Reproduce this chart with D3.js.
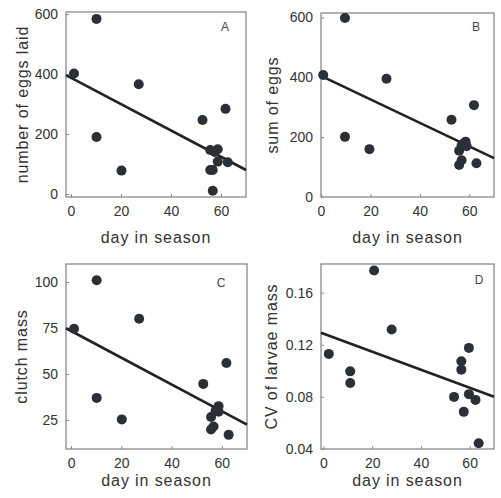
<!DOCTYPE html>
<html><head><meta charset="utf-8">
<script src="https://cdn.jsdelivr.net/npm/d3@7"></script>
<style>body{margin:0;background:#fff}svg{display:block}text{font-family:"Liberation Sans",Arial,sans-serif;fill:#333}</style>
</head><body><svg id="c" width="501" height="498"></svg>
<script>
// Panel A: number of eggs laid
const dayA = [1.2, 10.2, 10.2, 20.2, 27.1, 52.6, 61.8, 55.7, 58.7, 57.5, 58.7, 62.7, 55.7, 56.7, 56.7];
const eggsA = [402, 584, 190, 78, 366, 247, 284, 147, 149, 140, 108, 106, 80, 80, 11];
// Panel B: sum of eggs
const dayB = [0.9, 9.7, 9.7, 19.6, 26.5, 52.8, 61.9, 55.9, 56.9, 58.5, 58.9, 57.5, 55.9, 56.9, 62.9];
const eggsB = [408, 598, 201, 160, 395, 258, 307, 155, 172, 185, 170, 178, 107, 123, 113];
// Panel C: clutch mass
const dayC = [1.2, 10.2, 10.2, 20.2, 27.1, 52.6, 61.8, 55.7, 56.7, 55.7, 57.5, 58.7, 58.7, 62.7];
const massC = [74.6, 101, 37, 25.3, 80, 44.6, 56, 26.6, 21.4, 19.8, 30, 32.5, 29.5, 16.9];
// Panel D: CV of larvae mass
const dayD = [2.2, 11, 11, 20.8, 28, 53.6, 56.6, 56.6, 59.7, 59.7, 57.6, 62.4, 63.7];
const cvD = [0.113, 0.0996, 0.0906, 0.177, 0.1317, 0.080, 0.1073, 0.1009, 0.1176, 0.0821, 0.0685, 0.0777, 0.0444];
// Fitted regression lines: [intercept, slope]
const fitA = [388, -4.4];
const fitB = [405, -3.93];
const fitC = [73.4, -0.727];
const fitD = [0.1285, -0.000692];
const xTicks = [0, 20, 40, 60];
const yTicksA = [0, 200, 400, 600];
const yTicksB = [0, 200, 400, 600];
const yTicksC = [25, 50, 75, 100];
const yTicksD = [0.04, 0.08, 0.12, 0.16];
const yLabels = ["number of eggs laid", "sum of eggs", "clutch mass", "CV of larvae mass"];
const panelLetters = ["A", "B", "C", "D"];

const panels = [
  {x: dayA, y: eggsA, fit: fitA, yt: yTicksA, yfmt: d3.format("d"), xd: [-2, 70], yd: [-10, 607],
   box: [66, 12, 246, 197], ylx: 22, letter: [225, 27]},
  {x: dayB, y: eggsB, fit: fitB, yt: yTicksB, yfmt: d3.format("d"), xd: [0, 70], yd: [0, 615],
   box: [321, 13, 494, 197], ylx: 272, letter: [476, 27]},
  {x: dayC, y: massC, fit: fitC, yt: yTicksC, yfmt: d3.format("d"), xd: [-2, 70], yd: [9.2, 109.8],
   box: [66, 264, 247, 449], ylx: 21, letter: [221, 283]},
  {x: dayD, y: cvD, fit: fitD, yt: yTicksD, yfmt: d3.format(".2f"), xd: [-1, 70], yd: [0.04, 0.182],
   box: [321, 264, 494, 449], ylx: 271, letter: [479, 280]}
];

const svg = d3.select("#c");
panels.forEach((p, i) => {
  const [x0, y0, x1, y1] = p.box;
  const xs = d3.scaleLinear().domain(p.xd).range([x0, x1]);
  const ys = d3.scaleLinear().domain(p.yd).range([y1, y0]);
  const g = svg.append("g");
  // frame
  g.append("rect").attr("x", x0).attr("y", y0).attr("width", x1 - x0).attr("height", y1 - y0)
    .attr("fill", "none").attr("stroke", "#8a8a8a").attr("stroke-width", 1.3);
  // axes (inward ticks)
  const xa = g.append("g").attr("transform", `translate(0,${y1})`)
    .call(d3.axisBottom(xs).tickValues(xTicks).tickSize(-3).tickPadding(9).tickFormat(d3.format("d")));
  const ya = g.append("g").attr("transform", `translate(${x0},0)`)
    .call(d3.axisLeft(ys).tickValues(p.yt).tickSize(-3).tickPadding(8).tickFormat(p.yfmt));
  [xa, ya].forEach(a => {
    a.select(".domain").remove();
    a.selectAll("line").attr("stroke", "#8a8a8a");
    a.selectAll("text").attr("font-size", 14).style("fill", "#333").attr("font-family", "Liberation Sans, Arial, sans-serif");
  });
  // regression line
  g.append("line")
    .attr("x1", xs(p.xd[0])).attr("y1", ys(p.fit[0] + p.fit[1] * p.xd[0]))
    .attr("x2", xs(p.xd[1])).attr("y2", ys(p.fit[0] + p.fit[1] * p.xd[1]))
    .attr("stroke", "#222").attr("stroke-width", 2.6);
  // points
  g.selectAll("circle").data(p.x.map((d, k) => [d, p.y[k]])).join("circle")
    .attr("cx", d => xs(d[0])).attr("cy", d => ys(d[1])).attr("r", 5)
    .attr("fill", "#2b2f36");
  // labels
  g.append("text").attr("x", (x0 + x1) / 2).attr("y", i < 2 ? 243 : 486)
    .attr("text-anchor", "middle").attr("font-size", 16).style("letter-spacing", "0.9px")
    .text("day in season");
  g.append("text").attr("transform", `translate(${p.ylx + 6},${(y0 + y1) / 2}) rotate(-90)`)
    .attr("text-anchor", "middle").attr("font-size", 16).style("letter-spacing", "0.9px")
    .text(yLabels[i]);
  g.append("text").attr("x", p.letter[0]).attr("y", p.letter[1] + 4)
    .attr("text-anchor", "middle").attr("font-size", 12).style("fill", "#444")
    .text(panelLetters[i]);
});
</script></body></html>
